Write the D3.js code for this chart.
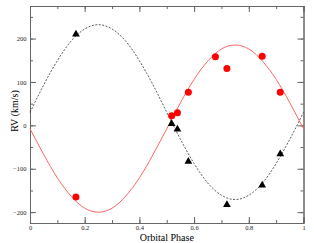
<!DOCTYPE html>
<html>
<head>
<meta charset="utf-8">
<script src="https://cdn.jsdelivr.net/npm/d3@7"></script>
<style>
  body { margin: 0; background: #fff; }
  svg { display: block; font-family: "Liberation Serif", "DejaVu Serif", serif; }
</style>
</head>
<body>
<div id="chart-area"></div>
<script>
// model curves, every 0.05 in phase
const curvePhase = [0, 0.05, 0.1, 0.15, 0.2, 0.25, 0.3, 0.35, 0.4, 0.45, 0.5,
  0.55, 0.6, 0.65, 0.7, 0.75, 0.8, 0.85, 0.9, 0.95, 1]
const redCurve = [-8, -67, -121, -163, -191, -200, -191, -163, -121, -67, -8,
  52, 106, 148, 176, 185, 176, 148, 106, 52, -8]
const blackCurve = [30, 93, 149, 194, 222, 232, 222, 194, 149, 93, 30,
  -32, -88, -133, -161, -171, -161, -133, -88, -32, 30]

// observations
const redPhase = [0.168, 0.518, 0.539, 0.579, 0.678, 0.720, 0.849, 0.915]
const redRV = [-165, 22, 29, 76, 158, 131, 159, 76]
const blackPhase = [0.168, 0.518, 0.539, 0.579, 0.720, 0.849, 0.915]
const blackRV = [211, 5, -8, -82, -182, -137, -65]

const xTicks = [0, 0.2, 0.4, 0.6, 0.8, 1]
const yTicks = [-200, -100, 0, 100, 200]

const W = 314, H = 243
const MARGIN = { LEFT: 30, RIGHT: 10.5, TOP: 6, BOTTOM: 20 }
const WIDTH = W - MARGIN.LEFT - MARGIN.RIGHT
const HEIGHT = H - MARGIN.TOP - MARGIN.BOTTOM

const svg = d3.select("#chart-area").append("svg")
    .attr("width", W)
    .attr("height", H)

const g = svg.append("g")
    .attr("transform", `translate(${MARGIN.LEFT}, ${MARGIN.TOP})`)

// Scales
const x = d3.scaleLinear().range([0, WIDTH]).domain([0, 1])
const y = d3.scaleLinear().range([HEIGHT, 0]).domain([-225, 275])

const frameColor = "#666"

function styleAxis(sel) {
    sel.selectAll("path").attr("stroke", frameColor)
    sel.selectAll("line").attr("stroke", frameColor)
    sel.selectAll("text")
        .attr("font-size", "6.5px")
        .attr("fill", "#222")
        .attr("font-family", "Liberation Serif, serif")
}

// minor ticks
const xMinor = d3.range(0, 1.001, 0.1)
const yMinor = d3.range(-200, 251, 50)

g.append("g").attr("transform", `translate(0, ${HEIGHT})`)
    .call(d3.axisBottom(x).tickValues(xMinor).tickSize(-3).tickFormat("")).call(styleAxis)
g.append("g")
    .call(d3.axisTop(x).tickValues(xMinor).tickSize(-3).tickFormat("")).call(styleAxis)
g.append("g")
    .call(d3.axisLeft(y).tickValues(yMinor).tickSize(-3).tickFormat("")).call(styleAxis)
g.append("g").attr("transform", `translate(${WIDTH}, 0)`)
    .call(d3.axisRight(y).tickValues(yMinor).tickSize(-3).tickFormat("")).call(styleAxis)

// major ticks
g.append("g").attr("transform", `translate(0, ${HEIGHT})`)
    .call(d3.axisBottom(x).tickValues(xTicks).tickSize(-6)
        .tickFormat(d => d === 0 || d === 1 ? d3.format("d")(d) : d3.format(".1f")(d)))
    .call(styleAxis)
    .selectAll("text").attr("dy", "0.71em").attr("y", 2.5)
g.append("g")
    .call(d3.axisTop(x).tickValues(xTicks).tickSize(-6).tickFormat("")).call(styleAxis)
g.append("g")
    .call(d3.axisLeft(y).tickValues(yTicks).tickSize(-6)).call(styleAxis)
    .selectAll("text").attr("x", -3.5)
g.append("g").attr("transform", `translate(${WIDTH}, 0)`)
    .call(d3.axisRight(y).tickValues(yTicks).tickSize(-6).tickFormat("")).call(styleAxis)

// curves
const line = d3.line()
    .x(d => x(d[0]))
    .y(d => y(d[1]))
    .curve(d3.curveNatural)

g.append("path")
    .datum(curvePhase.map((p, i) => [p, redCurve[i]]))
    .attr("fill", "none")
    .attr("stroke", "#ff6666")
    .attr("stroke-width", 1)
    .attr("d", line)

g.append("path")
    .datum(curvePhase.map((p, i) => [p, blackCurve[i]]))
    .attr("fill", "none")
    .attr("stroke", "#333")
    .attr("stroke-width", 0.8)
    .attr("stroke-dasharray", "2,1.5")
    .attr("d", line)

// points
g.selectAll("circle.red")
    .data(redPhase.map((p, i) => [p, redRV[i]]))
    .enter().append("circle")
    .attr("cx", d => x(d[0]))
    .attr("cy", d => y(d[1]))
    .attr("r", 3.5)
    .attr("fill", "#ff0000")

const tri = d3.symbol().type(d3.symbolTriangle).size(26)
g.selectAll("path.tri")
    .data(blackPhase.map((p, i) => [p, blackRV[i]]))
    .enter().append("path")
    .attr("class", "tri")
    .attr("transform", d => `translate(${x(d[0])}, ${y(d[1]) + 0.5})`)
    .attr("d", tri)
    .attr("fill", "#000")

// Labels
svg.append("text")
    .attr("x", MARGIN.LEFT + WIDTH / 2)
    .attr("y", 240.5)
    .attr("font-size", "10px")
    .attr("text-anchor", "middle")
    .text("Orbital Phase")

svg.append("text")
    .attr("transform", "rotate(-90)")
    .attr("x", -111)
    .attr("y", 18)
    .attr("font-size", "10px")
    .attr("text-anchor", "middle")
    .text("RV (km/s)")
</script>
</body>
</html>
